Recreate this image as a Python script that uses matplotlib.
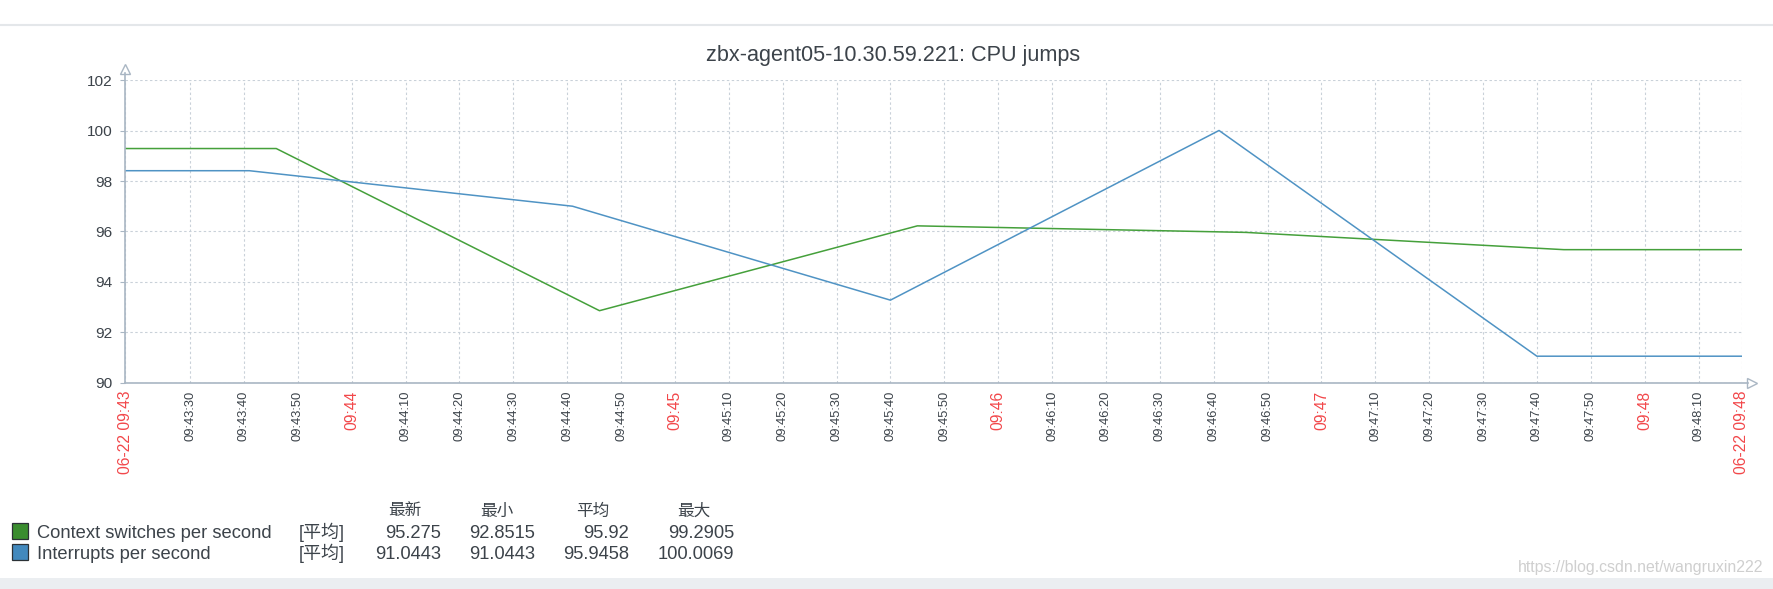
import matplotlib
matplotlib.use("Agg")
import matplotlib.pyplot as plt
import matplotlib.transforms as mtransforms
from matplotlib import font_manager
from matplotlib.lines import Line2D
from matplotlib.patches import Rectangle
import pandas as pd

# data
title = "zbx-agent05-10.30.59.221: CPU jumps"
day = "2020-06-22"
window_start = "09:43:18"
window_end = "09:48:18"

series_names = ["Context switches per second", "Interrupts per second"]
ctx_times = ["09:43:46", "09:44:46", "09:45:45", "09:46:46", "09:47:45"]
ctx_values = [99.2905, 92.8515, 96.22, 95.96, 95.275]
irq_times = ["09:43:41", "09:44:41", "09:45:40", "09:46:41", "09:47:40"]
irq_values = [98.41, 97.00, 93.27, 100.0069, 91.0443]

y_ticks = [90, 92, 94, 96, 98, 100, 102]

stat_headers = ["最新", "最小", "平均", "最大"]
func_label = "[平均]"
ctx_stats = ["95.275", "92.8515", "95.92", "99.2905"]
irq_stats = ["91.0443", "91.0443", "95.9458", "100.0069"]
watermark = "https://blog.csdn.net/wangruxin222"

line_colors = ["#45a03b", "#4f93c4"]
box_colors = ["#3a8d2f", "#4289bd"]
axis_color = "#a9b6c3"
grid_color = "#c9d1d9"
text_color = "#3c434a"
red = "#f2474a"


def has_font(name):
    try:
        font_manager.findfont(font_manager.FontProperties(family=name), fallback_to_default=False)
        return True
    except ValueError:
        return False


if has_font("Liberation Sans Narrow"):
    base, k = "Liberation Sans Narrow", 1.0
else:
    base, k = "Liberation Sans", 0.82
fam = [base, "Noto Sans CJK SC", "DejaVu Sans"]
plt.rcParams["font.family"] = fam

W, H = 1773, 589
fig = plt.figure(figsize=(W / 100, H / 100), dpi=100)

# pixel helpers for placing things like the zabbix layout
def fx(px):
    return px / W


def fy(py):
    return 1 - py / H


ax = fig.add_axes([fx(125.4), fy(382.5), fx(1741.6) - fx(125.4), fy(80.3) - fy(382.5)])

t0 = pd.Timestamp(f"{day} {window_start}")
t1 = pd.Timestamp(f"{day} {window_end}")


def to_ts(times):
    return [pd.Timestamp(f"{day} {t}") for t in times]


# zabbix keeps the first/last value flat out to the edges of the window
for times, vals, c in [(ctx_times, ctx_values, line_colors[0]), (irq_times, irq_values, line_colors[1])]:
    xs = [t0] + to_ts(times) + [t1]
    ys = [vals[0]] + vals + [vals[-1]]
    ax.plot(xs, ys, color=c, lw=1.1, zorder=3)

ax.set_xlim(t0, t1)
ax.set_ylim(y_ticks[0], y_ticks[-1])

ticks = [t0] + list(pd.date_range(f"{day} 09:43:30", f"{day} 09:48:10", freq="10s")) + [t1]
labels = []
is_red = []
for i, t in enumerate(ticks):
    if i == 0 or i == len(ticks) - 1:
        labels.append(t.strftime("%m-%d %H:%M"))
        is_red.append(True)
    elif t.second == 0:
        labels.append(t.strftime("%H:%M"))
        is_red.append(True)
    else:
        labels.append(t.strftime("%H:%M:%S"))
        is_red.append(False)

ax.set_xticks(ticks)
ax.set_xticklabels(labels, rotation=90, va="top", ha="center")
for lab, r in zip(ax.get_xticklabels(), is_red):
    lab.set_color(red if r else text_color)
    lab.set_fontsize((13.7 if r else 11.3) * k)
ax.tick_params(axis="x", length=0, pad=6)

ax.set_yticks(y_ticks)
ax.set_yticklabels([str(v) for v in y_ticks])
ax.tick_params(axis="y", length=3.5, width=0.8, color=axis_color, pad=6,
               labelsize=13.5 * k, labelcolor=text_color)

ax.grid(True, color=grid_color, lw=0.8, linestyle=(0, (2.2, 2.2)))
for s in ax.spines.values():
    s.set_visible(False)

# axes with open arrow heads
ax.add_line(Line2D([0, 0], [0, 1.025], transform=ax.transAxes, color=axis_color, lw=1.2, clip_on=False, zorder=4))
ax.add_line(Line2D([0, 1.004], [0, 0], transform=ax.transAxes, color=axis_color, lw=1.2, clip_on=False, zorder=4))
up = ax.transAxes + mtransforms.ScaledTranslation(0, 0.11, fig.dpi_scale_trans)
right = ax.transAxes + mtransforms.ScaledTranslation(0.10, 0, fig.dpi_scale_trans)
ax.plot([0], [1], marker="^", ms=6.5, mfc="white", mec=axis_color, mew=1.0, transform=up, clip_on=False)
ax.plot([1], [0], marker=">", ms=6.5, mfc="white", mec=axis_color, mew=1.0, transform=right, clip_on=False)

fig.text(fx(893), fy(61), title, ha="center", va="baseline", fontsize=19 * k, color=text_color)

# legend table under the chart
header_x = [405, 496.7, 593, 693.3]
value_x = [440.7, 535, 629, 734]
row_base = [538.3, 559.3]
for h, x in zip(stat_headers, header_x):
    fig.text(fx(x), fy(515.5), h, ha="center", va="baseline", fontsize=12, color=text_color)
for name, stats, bc, yb in zip(series_names, [ctx_stats, irq_stats], box_colors, row_base):
    fig.add_artist(Rectangle((fx(12.3), fy(yb + 0.5)), fx(16), 16 / H, transform=fig.transFigure,
                             facecolor=bc, edgecolor="#2b3136", lw=0.9))
    fig.text(fx(36.7), fy(yb), name, ha="left", va="baseline", fontsize=16.1 * k, color=text_color)
    fig.text(fx(298.3), fy(yb), func_label, ha="left", va="baseline", fontsize=13, color=text_color)
    for v, x in zip(stats, value_x):
        fig.text(fx(x), fy(yb), v, ha="right", va="baseline", fontsize=16.1 * k, color=text_color)

fig.add_artist(Line2D([0, 1], [fy(25), fy(25)], transform=fig.transFigure, color="#e4e7ea", lw=1.5))
fig.add_artist(Rectangle((0, 0), 1, 11 / H, transform=fig.transFigure, color="#ebeef1", lw=0))
fig.text(fx(1763), fy(572), watermark, ha="right", va="baseline", fontsize=14 * k, color="#cfcfcf")

fig.savefig("out.png", dpi=100)
